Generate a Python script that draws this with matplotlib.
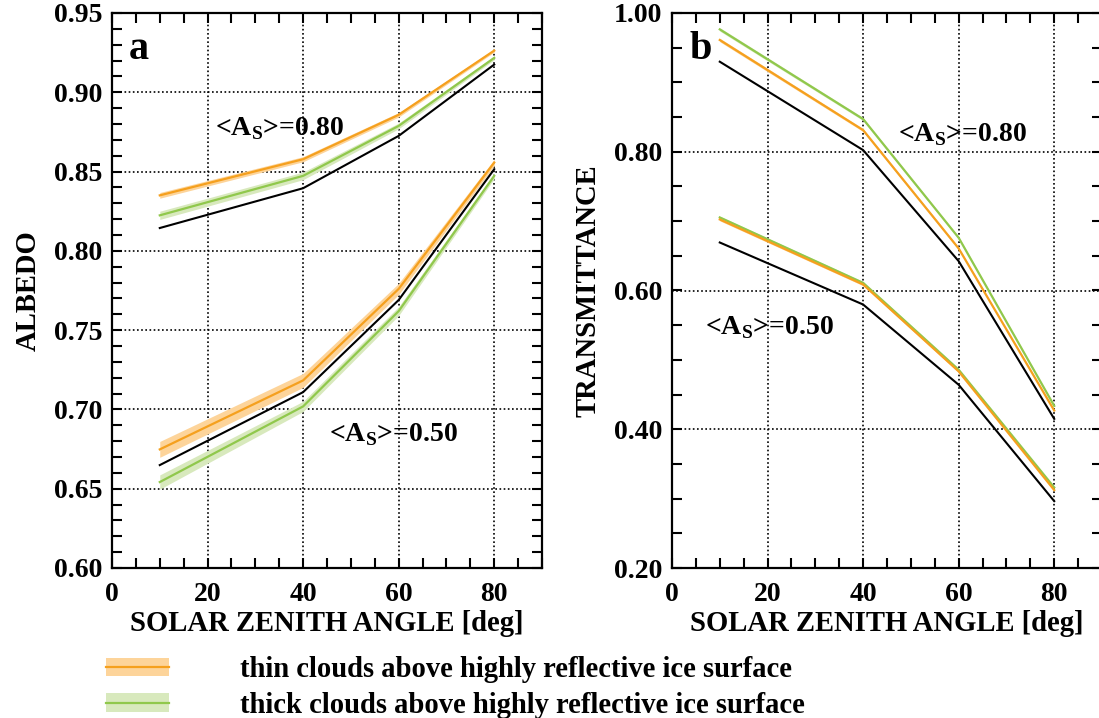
import matplotlib
matplotlib.use('Agg')
import matplotlib.pyplot as plt
from matplotlib.patches import Patch
from matplotlib.lines import Line2D
from matplotlib.legend_handler import HandlerTuple
from matplotlib.ticker import MultipleLocator, FormatStrFormatter

plt.rcParams['font.family'] = 'Liberation Serif'
plt.rcParams['font.weight'] = 'bold'
plt.rcParams['axes.labelweight'] = 'bold'
plt.rcParams['mathtext.fontset'] = 'custom'
plt.rcParams['mathtext.rm'] = 'Liberation Serif:bold'
plt.rcParams['mathtext.bf'] = 'Liberation Serif:bold'

sza = [10, 40, 60, 80]

# albedo, surface albedo 0.80
alb80_ref = [0.8144, 0.8395, 0.8725, 0.9175]
alb80_thin = [0.8350, 0.8578, 0.8858, 0.9263]
alb80_thin_err = [0.0018, 0.0016, 0.0014, 0.0010]
alb80_thick = [0.8224, 0.8473, 0.8788, 0.9217]
alb80_thick_err = [0.0026, 0.0024, 0.0018, 0.0012]

# albedo, surface albedo 0.50
alb50_ref = [0.6649, 0.7109, 0.7690, 0.8515]
alb50_thin = [0.6748, 0.7183, 0.7760, 0.8557]
alb50_thin_err = [0.0050, 0.0044, 0.0035, 0.0020]
alb50_thick = [0.6542, 0.7019, 0.7620, 0.8473]
alb50_thick_err = [0.0045, 0.0032, 0.0028, 0.0018]

# transmittance, surface albedo 0.80
tr80_ref = [0.9298, 0.8024, 0.6423, 0.4150]
tr80_thin = [0.9611, 0.8312, 0.6606, 0.4270]
tr80_thin_err = [0.0025, 0.0022, 0.0018, 0.0012]
tr80_thick = [0.9764, 0.8471, 0.6760, 0.4337]
tr80_thick_err = [0.0025, 0.0022, 0.0018, 0.0012]

# transmittance, surface albedo 0.50
tr50_ref = [0.6692, 0.5798, 0.4641, 0.2964]
tr50_thin = [0.7024, 0.6087, 0.4834, 0.3123]
tr50_thin_err = [0.0020, 0.0018, 0.0015, 0.0010]
tr50_thick = [0.7053, 0.6110, 0.4858, 0.3161]
tr50_thick_err = [0.0020, 0.0018, 0.0015, 0.0010]

ORANGE = '#f5a01e'
ORANGE_BAND = '#fdd49a'
GREEN = '#90c84c'
GREEN_BAND = '#d8e9bd'
FS = 20
LABEL_FS = 20.6


def band(ax, y, err, color):
    lo = [v - e for v, e in zip(y, err)]
    hi = [v + e for v, e in zip(y, err)]
    ax.fill_between(sza, lo, hi, color=color, lw=0)


def draw_group(ax, ref, thin, thin_err, thick, thick_err):
    band(ax, thin, thin_err, ORANGE_BAND)
    band(ax, thick, thick_err, GREEN_BAND)
    ax.plot(sza, ref, color='black', lw=1.5)
    ax.plot(sza, thick, color=GREEN, lw=1.6)
    ax.plot(sza, thin, color=ORANGE, lw=1.6)


def style_axes(ax, ylim, ymajor, yminor, ygrid):
    ax.set_xlim(0, 90)
    ax.set_ylim(*ylim)
    ax.set_xticks([0, 20, 40, 60, 80])
    ax.xaxis.set_minor_locator(MultipleLocator(5))
    ax.yaxis.set_major_locator(MultipleLocator(ymajor))
    ax.yaxis.set_minor_locator(MultipleLocator(yminor))
    ax.yaxis.set_major_formatter(FormatStrFormatter('%.2f'))
    ax.tick_params(which='both', direction='in', top=True, right=True,
                   length=7, width=1.5, labelsize=FS)
    ax.tick_params(axis='y', pad=7)
    ax.tick_params(axis='x', pad=10)
    for s in ax.spines.values():
        s.set_linewidth(1.6)
    for gx in [20, 40, 60, 80]:
        ax.axvline(gx, color='black', lw=1.2, ls=(0, (1, 1.5)), zorder=0.5)
    for gy in ygrid:
        ax.axhline(gy, color='black', lw=1.2, ls=(0, (1, 1.5)), zorder=0.5)
    ax.set_xlabel('SOLAR ZENITH ANGLE [deg]', fontsize=LABEL_FS, labelpad=2)


def main():
    fig = plt.figure(figsize=(10.99, 7.18), dpi=100)
    ax_a = fig.add_axes([112 / 1099, 1 - 568 / 718, 430 / 1099, 555 / 718])
    ax_b = fig.add_axes([672 / 1099, 1 - 568 / 718, 430 / 1099, 555 / 718])

    # panel a: albedo
    draw_group(ax_a, alb80_ref, alb80_thin, alb80_thin_err, alb80_thick, alb80_thick_err)
    draw_group(ax_a, alb50_ref, alb50_thin, alb50_thin_err, alb50_thick, alb50_thick_err)
    style_axes(ax_a, (0.60, 0.95), 0.05, 0.01, [0.65, 0.70, 0.75, 0.80, 0.85, 0.90])
    ax_a.set_ylabel('ALBEDO', fontsize=LABEL_FS, labelpad=9)
    ax_a.text(0.04, 0.967, 'a', transform=ax_a.transAxes, fontsize=29, va='top')
    ax_a.text(21.5, 0.873, r'<A$_\mathregular{S}$>=0.80', fontsize=FS)
    ax_a.text(45.5, 0.680, r'<A$_\mathregular{S}$>=0.50', fontsize=FS)

    # panel b: transmittance
    draw_group(ax_b, tr80_ref, tr80_thin, tr80_thin_err, tr80_thick, tr80_thick_err)
    draw_group(ax_b, tr50_ref, tr50_thin, tr50_thin_err, tr50_thick, tr50_thick_err)
    style_axes(ax_b, (0.20, 1.00), 0.20, 0.05, [0.40, 0.60, 0.80])
    ax_b.set_ylabel('TRANSMITTANCE', fontsize=LABEL_FS, labelpad=9)
    ax_b.text(0.04, 0.967, 'b', transform=ax_b.transAxes, fontsize=29, va='top')
    ax_b.text(47.3, 0.815, r'<A$_\mathregular{S}$>=0.80', fontsize=FS)
    ax_b.text(7.0, 0.537, r'<A$_\mathregular{S}$>=0.50', fontsize=FS)

    handles = [
        (Patch(facecolor=ORANGE_BAND, lw=0), Line2D([], [], color=ORANGE, lw=1.6)),
        (Patch(facecolor=GREEN_BAND, lw=0), Line2D([], [], color=GREEN, lw=1.6)),
    ]
    labels = ['thin clouds above highly reflective ice surface',
              'thick clouds above highly reflective ice surface']
    fig.legend(handles, labels, handler_map={tuple: HandlerTuple(ndivide=1)},
               loc='upper left', bbox_to_anchor=(106 / 1099, 1 - 656 / 718),
               frameon=False, fontsize=LABEL_FS, handlelength=2.2, handleheight=0.6,
               handletextpad=2.5, labelspacing=0.3, borderpad=0, borderaxespad=0)

    fig.savefig('out.png', dpi=100)


if __name__ == "__main__":
    main()
